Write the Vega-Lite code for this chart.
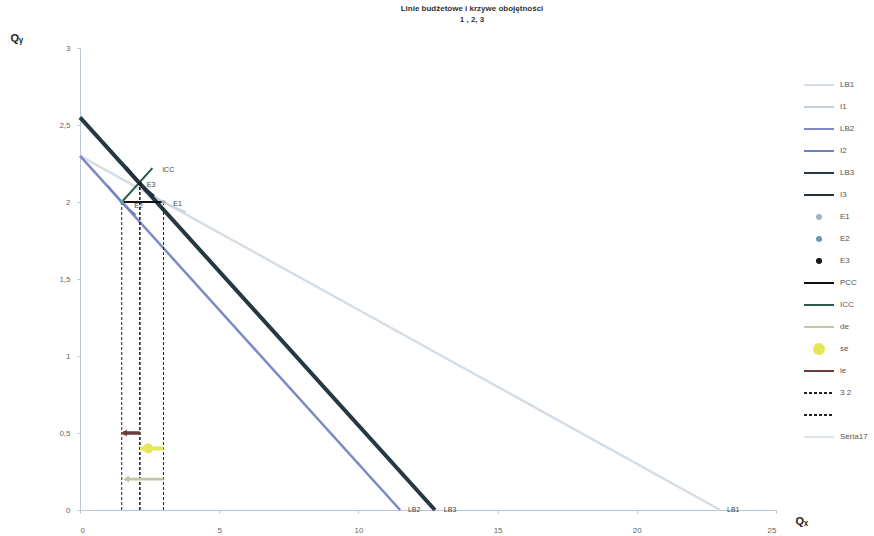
{
  "$schema": "https://vega.github.io/schema/vega-lite/v6.json",
  "width": 696,
  "height": 462,
  "autosize": "none",
  "padding": {"left": 80, "top": 48, "right": 98, "bottom": 26},
  "background": "white",
  "config": {
    "view": {"stroke": null},
    "font": "Liberation Sans",
    "legend": {"orient": "none", "legendX": 723, "legendY": 26, "padding": 0, "rowPadding": 0, "clipHeight": 22, "symbolSize": 900, "symbolStrokeWidth": 2, "labelFontSize": 8, "labelColor": "#555", "labelOffset": 5, "symbolOpacity": 1}
  },
  "title": {"text": ["Linie budżetowe i  krzywe obojętności", "1 , 2, 3"], "fontSize": 8, "fontWeight": "bold", "color": "#333", "lineHeight": 11, "offset": 8, "dx": 44, "anchor": "middle"},
  "datasets": {
    "lines": [
      {"s": "LB1", "x": 0, "y": 2.3}, {"s": "LB1", "x": 23, "y": 0},
      {"s": "I1", "x": 2.4, "y": 2.065}, {"s": "I1", "x": 2.7, "y": 2.03}, {"s": "I1", "x": 3, "y": 2.0}, {"s": "I1", "x": 3.4, "y": 1.965}, {"s": "I1", "x": 3.8, "y": 1.935},
      {"s": "LB2", "x": 0, "y": 2.3}, {"s": "LB2", "x": 11.5, "y": 0},
      {"s": "I2", "x": 1.0, "y": 2.105}, {"s": "I2", "x": 1.25, "y": 2.05}, {"s": "I2", "x": 1.5, "y": 2.0}, {"s": "I2", "x": 1.75, "y": 1.955}, {"s": "I2", "x": 2.0, "y": 1.915},
      {"s": "LB3", "x": 0, "y": 2.55}, {"s": "LB3", "x": 12.75, "y": 0},
      {"s": "I3", "x": 1.65, "y": 2.225}, {"s": "I3", "x": 1.9, "y": 2.17}, {"s": "I3", "x": 2.15, "y": 2.12}, {"s": "I3", "x": 2.4, "y": 2.075}, {"s": "I3", "x": 2.65, "y": 2.035},
      {"s": "ICC", "x": 1.5, "y": 2.0}, {"s": "ICC", "x": 2.6, "y": 2.22}
    ],
    "rules": [
      {"s": "PCC", "x": 1.5, "x2": 3, "y": 2, "y2": 2},
      {"s": "3 2", "x": 2.15, "x2": 2.15, "y": 0, "y2": 2.12},
      {"s": " ", "x": 1.5, "x2": 1.5, "y": 0, "y2": 2},
      {"s": " ", "x": 3, "x2": 3, "y": 0, "y2": 2},
      {"s": "de", "x": 1.62, "x2": 3, "y": 0.2, "y2": 0.2},
      {"s": "se", "x": 2.15, "x2": 3, "y": 0.4, "y2": 0.4},
      {"s": "ie", "x": 1.55, "x2": 2.15, "y": 0.5, "y2": 0.5}
    ],
    "points": [
      {"s": "E1", "x": 3, "y": 2},
      {"s": "E2", "x": 1.5, "y": 2},
      {"s": "E3", "x": 2.15, "y": 2.12},
      {"s": "se", "x": 2.45, "y": 0.4}
    ],
    "heads": [
      {"s": "de", "x": 1.66, "y": 0.2},
      {"s": "ie", "x": 1.58, "y": 0.5}
    ],
    "labels": [
      {"t": "ICC", "x": 2.95, "y": 2.21},
      {"t": "E3", "x": 2.4, "y": 2.11},
      {"t": "E1", "x": 3.35, "y": 1.99},
      {"t": "E2", "x": 1.95, "y": 1.975},
      {"t": "LB2", "x": 11.78, "y": 0},
      {"t": "LB3", "x": 13.07, "y": 0},
      {"t": "LB1", "x": 23.24, "y": 0}
    ]
  },
  "layer": [
    {
      "data": {"name": "lines"},
      "mark": {"type": "line"},
      "encoding": {
        "x": {"field": "x", "type": "quantitative", "scale": {"domain": [0, 25], "nice": false, "zero": false},
          "axis": {"values": [0, 5, 10, 15, 20, 25], "grid": false, "title": "Qₓ", "domainColor": "#b9c7d3", "tickColor": "#b9c7d3", "tickSize": 3, "labelFontSize": 8, "labelColor": "#666", "labelPadding": 13, "titleX": 715, "titleY": 11, "titleAlign": "left", "titleBaseline": "middle", "titleFontSize": 11, "titleFontWeight": "bold", "titleColor": "#222"}},
        "y": {"field": "y", "type": "quantitative", "scale": {"domain": [0, 3], "nice": false, "zero": false},
          "axis": {"values": [0, 0.5, 1, 1.5, 2, 2.5, 3], "format": "~g", "grid": false, "title": "Qᵧ", "labelExpr": "replace(datum.label, '.', ',')", "domainColor": "#b9c7d3", "tickColor": "#b9c7d3", "tickSize": 3, "labelFontSize": 8, "labelColor": "#666", "labelPadding": 7, "titleX": -70, "titleY": -10, "titleAngle": 0, "titleAlign": "left", "titleBaseline": "middle", "titleFontSize": 11, "titleFontWeight": "bold", "titleColor": "#222"}},
        "color": {"field": "s", "type": "nominal", "legend": {"title": null},
          "scale": {"domain": ["LB1", "I1", "LB2", "I2", "LB3", "I3", "E1", "E2", "E3", "PCC", "ICC", "de", "se", "ie", "3 2", " ", "Seria17"],
            "range": ["#d5dee8", "#c5cfd9", "#7d8ac4", "#6e82bd", "#263841", "#22313a", "#a5b4c2", "#6a9bb5", "#1b1b1b", "#111111", "#2d5a48", "#bfc7a6", "#e6e65a", "#6e3b3b", "#222222", "#222222", "#dbe4ea"]}},
        "strokeWidth": {"field": "s", "type": "nominal", "legend": null,
          "scale": {"type": "ordinal", "domain": ["LB1", "I1", "LB2", "I2", "LB3", "I3", "E1", "E2", "E3", "PCC", "ICC", "de", "se", "ie", "3 2", " ", "Seria17"],
            "range": [2.5, 1.5, 2.5, 2, 4, 3.5, 1, 1, 1, 1.5, 2, 2, 2, 2, 1, 1, 1.5]}}
      }
    },
    {
      "data": {"name": "rules"},
      "mark": {"type": "rule"},
      "encoding": {
        "x": {"field": "x", "type": "quantitative"},
        "x2": {"field": "x2"},
        "y": {"field": "y", "type": "quantitative"},
        "y2": {"field": "y2"},
        "color": {"field": "s", "type": "nominal", "legend": {"title": null}},
        "strokeWidth": {"field": "s", "type": "nominal", "legend": null},
        "strokeDash": {"field": "s", "type": "nominal", "legend": {"title": null},
          "scale": {"domain": ["LB1", "I1", "LB2", "I2", "LB3", "I3", "E1", "E2", "E3", "PCC", "ICC", "de", "se", "ie", "3 2", " ", "Seria17"],
            "range": [[1, 0], [1, 0], [1, 0], [1, 0], [1, 0], [1, 0], [1, 0], [1, 0], [1, 0], [1, 0], [1, 0], [1, 0], [1, 0], [1, 0], [3, 2], [3, 2], [1, 0]]}}
      }
    },
    {
      "data": {"name": "points"},
      "mark": {"type": "point", "filled": true, "opacity": 1, "size": 900},
      "encoding": {
        "x": {"field": "x", "type": "quantitative"},
        "y": {"field": "y", "type": "quantitative"},
        "color": {"field": "s", "type": "nominal", "legend": {"title": null}},
        "shape": {"field": "s", "type": "nominal", "legend": {"title": null},
          "scale": {"domain": ["LB1", "I1", "LB2", "I2", "LB3", "I3", "E1", "E2", "E3", "PCC", "ICC", "de", "se", "ie", "3 2", " ", "Seria17"],
            "range": ["stroke", "stroke", "stroke", "stroke", "stroke", "stroke",
              "M-0.14,0A0.14,0.14 0 1,0 0.14,0A0.14,0.14 0 1,0 -0.14,0Z",
              "M-0.14,0A0.14,0.14 0 1,0 0.14,0A0.14,0.14 0 1,0 -0.14,0Z",
              "M-0.14,0A0.14,0.14 0 1,0 0.14,0A0.14,0.14 0 1,0 -0.14,0Z",
              "stroke", "stroke", "stroke",
              "M-0.33,0A0.33,0.33 0 1,0 0.33,0A0.33,0.33 0 1,0 -0.33,0Z",
              "stroke", "stroke", "stroke", "stroke"]}}
      }
    },
    {
      "data": {"name": "heads"},
      "mark": {"type": "point", "filled": true, "opacity": 1, "shape": "triangle-left", "size": 45},
      "encoding": {
        "x": {"field": "x", "type": "quantitative"},
        "y": {"field": "y", "type": "quantitative"},
        "color": {"field": "s", "type": "nominal", "legend": {"title": null}}
      }
    },
    {
      "data": {"name": "labels"},
      "mark": {"type": "text", "align": "left", "baseline": "middle", "fontSize": 7, "color": "#444"},
      "encoding": {
        "x": {"field": "x", "type": "quantitative"},
        "y": {"field": "y", "type": "quantitative"},
        "text": {"field": "t"}
      }
    }
  ]
}
